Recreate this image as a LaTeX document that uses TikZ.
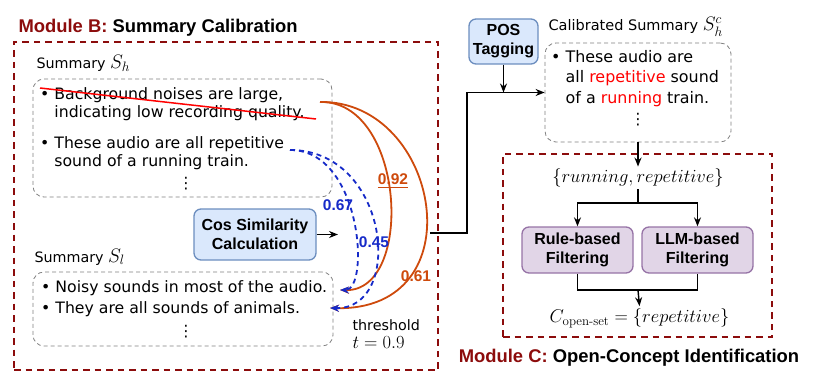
\RequirePackage{fix-cm}
\documentclass[tikz,border=0pt]{standalone}
\usepackage{amsmath}
\usepackage[no-math]{fontspec}
\setmainfont{DejaVu Sans}
\newfontfamily\headfont{Liberation Sans}
\newfontfamily\lmfont{Latin Modern Roman}
\usepackage{tikz}
\usetikzlibrary{calc, positioning, arrows.meta}
\usepackage{xcolor}
\definecolor{modred}{RGB}{140, 12, 12}
\definecolor{simhigh}{RGB}{206, 74, 12}
\definecolor{simlow}{RGB}{22, 42, 200}
\definecolor{procfill}{RGB}{218, 232, 252}
\definecolor{procedge}{RGB}{108, 142, 191}
\definecolor{filtfill}{RGB}{225, 213, 231}
\definecolor{filtedge}{RGB}{150, 115, 166}
\newcommand{\bodysize}{\fontsize{15.7}{18.7}\selectfont}
\newcommand{\labelsize}{\fontsize{14.3}{17}\selectfont}
\newcommand{\mathsize}{\fontsize{18.5}{22}\selectfont}
\newcommand{\headsize}{\headfont\bfseries\fontsize{16}{19}\selectfont}
\newcommand{\titlesize}{\headfont\bfseries\fontsize{18.4}{22}\selectfont}
\newcommand{\simsize}{\headfont\bfseries\fontsize{15.5}{18}\selectfont}
\newcommand{\bul}{\textbullet~}
\newcommand{\summ}[1]{{\fontsize{19.5}{22}\selectfont$#1$}}

\tikzset{
  modframe/.style={draw=modred, line width=2.3pt, dash pattern=on 6.5pt off 5pt, inner sep=0pt},
  sumbox/.style={draw=gray, line width=0.8pt, dash pattern=on 4pt off 3pt, rounded corners=11pt, inner sep=0pt},
  procbox/.style={draw=procedge, fill=procfill, line width=1.3pt, rounded corners=7pt, align=center, font=\headsize, inner sep=0pt},
  filtbox/.style={procbox, draw=filtedge, fill=filtfill},
  bodytext/.style={font=\bodysize, align=left, inner sep=0pt, anchor=north west},
  dotsnode/.style={font=\bodysize, inner sep=0pt},
  flow/.style={-{Stealth[length=9pt, width=7pt]}, line width=1.4pt},
  plainflow/.style={line width=1.4pt},
  highsim/.style={simhigh, line width=1.8pt, -{Stealth[length=9pt, width=7pt]}},
  lowsim/.style={simlow, line width=1.8pt, dash pattern=on 5pt off 4pt, -{Stealth[length=9pt, width=7pt]}},
}

\begin{document}
\begin{tikzpicture}[x=1pt, y=-1pt]
  \useasboundingbox (0,0) rectangle (814,385);

  % --- Module B: Summary Calibration ---
  \node[modframe, minimum width=424pt, minimum height=328pt] (modB) at (226,206) {};
  \node[anchor=base west, font=\titlesize] (titleB) at (15,32.5) {\textcolor{modred}{Module B:} Summary Calibration};

  % high-quality summary
  \node[anchor=base west, font=\labelsize] (shlabel) at (33,69) {Summary \summ{S_h}};
  \node[sumbox, minimum width=299pt, minimum height=118pt] (sh) at (182.5,138) {};
  \node[bodytext] (sh1) at (40,87) {\bul Background noises are large,\\\hphantom{\bul}indicating low recording quality.};
  \node[bodytext] (sh2) at (40,136) {\bul These audio are all repetitive\\\hphantom{\bul}sound of a running train.};
  \node[dotsnode] (shdots) at (186,184) {⋮};
  \draw[red, line width=1.5pt] (40,88) -- (316,119);

  % similarity module
  \node[procbox, minimum width=122pt, minimum height=51pt] (cos) at (255,234.5) {Cos Similarity\\Calculation};
  \coordinate (cosout) at (338,234.5);
  \draw[flow] (cos) -- (cosout);

  % low-quality summary
  \node[anchor=base west, font=\labelsize] (sllabel) at (31,262) {Summary \summ{S_l}};
  \node[sumbox, minimum width=300pt, minimum height=74pt] (sl) at (183,309) {};
  \node[bodytext] (sl1) at (41,280) {\bul Noisy sounds in most of the audio.};
  \node[bodytext] (sl2) at (41,301) {\bul They are all sounds of animals.};
  \node[dotsnode] (sldots) at (186,332) {⋮};
  \node[anchor=base west, font=\labelsize] (thr) at (349,330) {threshold};
  \node[anchor=base west, font=\mathsize] (tval) at (349,348) {$t=0.9$};

  % similarity curves
  \coordinate (hiA) at (320,102);
  \coordinate (hiB) at (290,150);
  \coordinate (loA) at (340,290);
  \coordinate (loB) at (330,308);
  \draw[highsim] (hiA) .. controls (405,100) and (415,292) .. (loA);
  \draw[highsim] (hiA) .. controls (440,100) and (478,312) .. (loB);
  \draw[lowsim] (hiB) .. controls (362,150) and (370,290) .. (loA);
  \draw[lowsim] (hiB) .. controls (390,150) and (405,310) .. (loB);
  \node[font=\simsize, text=simhigh] (s92) at (393,181) {\underline{0.92}};
  \node[font=\simsize, text=simhigh] (s61) at (416,276) {0.61};
  \node[font=\simsize, text=simlow] (s67) at (338,205) {0.67};
  \node[font=\simsize, text=simlow] (s45) at (374,242) {0.45};

  % --- calibrated summary ---
  \coordinate (bout) at (430,233);
  \coordinate (turn) at (467,233);
  \node[procbox, minimum width=69pt, minimum height=45pt] (pos) at (503.5,41.5) {POS\\Tagging};
  \node[anchor=base west, font=\fontsize{14.5}{17}\selectfont] (callabel) at (545,31) {Calibrated Summary \summ{S_h^c}};
  \node[sumbox, minimum width=186pt, minimum height=99pt] (cal) at (638,92.5) {};
  \node[bodytext, font=\fontsize{15.9}{20.5}\selectfont] (cal1) at (551,50) {\bul These audio are\\\hphantom{\bul}all \textcolor{red}{repetitive} sound\\\hphantom{\bul}of a \textcolor{red}{running} train.};
  \node[dotsnode] (caldots) at (638,120) {⋮};
  \draw[flow] (bout) -- (turn) |- (cal.west);
  \draw[flow] (pos.south) -- (pos.south |- cal.west);

  % --- Module C: Open-Concept Identification ---
  \node[modframe, minimum width=269pt, minimum height=183pt] (modC) at (637.5,245.5) {};
  \node[font=\mathsize, inner sep=2pt] (cands) at (638,178) {$\{running, repetitive\}$};
  \draw[flow] (cal.south) -- (cands.north);
  \node[filtbox, minimum width=111pt, minimum height=46pt] (rule) at (577.5,250) {Rule-based\\Filtering};
  \node[filtbox, minimum width=111pt, minimum height=46pt] (llm) at (697.5,250) {LLM-based\\Filtering};
  \coordinate (split) at (638,203);
  \coordinate (merge) at (638,290);
  \draw[plainflow] (cands.south) -- (split);
  \draw[flow] (split) -| (rule.north);
  \draw[flow] (split) -| (llm.north);
  \draw[plainflow] (rule.south) |- (merge) -| (llm.south);
  \node[font=\mathsize, inner sep=2pt] (copen) at (639.5,318) {$C_{\text{\lmfont open-set}}=\{repetitive\}$};
  \draw[flow] (merge) -- (copen.north);
  \node[font=\titlesize] (titleC) at (629,358) {\textcolor{modred}{Module C:} Open-Concept Identification};
\end{tikzpicture}
\end{document}
